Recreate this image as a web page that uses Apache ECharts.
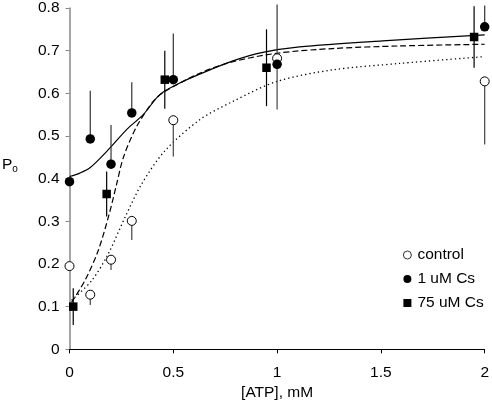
<!DOCTYPE html>
<html>
<head>
<meta charset="utf-8">
<script src="https://cdn.jsdelivr.net/npm/echarts@6/dist/echarts.min.js"></script>
<style>html,body{margin:0;padding:0;background:#fff}#c{width:492px;height:408px}</style>
</head>
<body>
<div id="c"></div>
<script>
// ---- data ----
var xTicks = [0, 0.5, 1, 1.5, 2];
var yTicks = [0, 0.1, 0.2, 0.3, 0.4, 0.5, 0.6, 0.7, 0.8];

var ctrlX = [0, 0.1, 0.2, 0.3, 0.5, 1.0, 2.0];
var ctrlY = [0.195, 0.128, 0.21, 0.301, 0.537, 0.682, 0.628];
var ctrlErr = [0, 0.024, 0.024, 0.045, 0.085, 0.12, 0.148];   // drawn downward

var cs1X = [0, 0.1, 0.2, 0.3, 0.5, 1.0, 2.0];
var cs1Y = [0.393, 0.493, 0.434, 0.554, 0.632, 0.668, 0.756];
var cs1Err = [0, 0.113, 0.092, 0.072, 0.108, 0.14, 0.05];     // drawn upward

var cs75X = [0.018, 0.179, 0.459, 0.949, 1.949];
var cs75Y = [0.1, 0.364, 0.632, 0.66, 0.732];
var cs75Err = [0.043, 0.053, 0.068, 0.09, 0.072];             // drawn both ways

// fitted curves
var fitCs1X = [0, 0.05, 0.1, 0.195, 0.275, 0.355, 0.435, 0.531, 0.627, 0.787, 0.931, 1.108, 1.508, 2.0];
var fitCs1Y = [0.405, 0.413, 0.426, 0.472, 0.515, 0.55, 0.597, 0.624, 0.645, 0.676, 0.696, 0.709, 0.723, 0.737];

var fitCs75X = [0.01, 0.074, 0.138, 0.19, 0.227, 0.259, 0.32, 0.403, 0.459, 0.627, 0.787, 1.0, 1.268, 1.588, 2.0];
var fitCs75Y = [0.11, 0.161, 0.231, 0.315, 0.387, 0.449, 0.519, 0.581, 0.604, 0.647, 0.674, 0.694, 0.705, 0.711, 0.715];

var fitCtrlX = [0.01, 0.107, 0.187, 0.267, 0.347, 0.459, 0.627, 0.787, 1.0, 1.268, 1.588, 2.0];
var fitCtrlY = [0.115, 0.161, 0.224, 0.309, 0.387, 0.465, 0.538, 0.581, 0.628, 0.655, 0.67, 0.686];

function pairs(xs, ys) { return xs.map(function (x, i) { return [x, ys[i]]; }); }
function errData(xs, ys, es, mode) {
  return xs.map(function (x, i) {
    var lo = ys[i], hi = ys[i];
    if (mode === 'down') lo = ys[i] - es[i];
    else if (mode === 'up') hi = ys[i] + es[i];
    else { lo = ys[i] - es[i]; hi = ys[i] + es[i]; }
    return [x, lo, hi];
  });
}
function errSeries(data, color) {
  return {
    type: 'custom', silent: true, clip: false, z: 3,
    data: data,
    encode: { x: 0, y: [1, 2] },
    renderItem: function (params, api) {
      var a = api.coord([api.value(0), api.value(1)]);
      var b = api.coord([api.value(0), api.value(2)]);
      return { type: 'line', shape: { x1: a[0], y1: a[1], x2: b[0], y2: b[1] },
               style: { stroke: color, lineWidth: 1.2 } };
    }
  };
}

var FONT = 'Liberation Sans, Arial, sans-serif';
var chart = echarts.init(document.getElementById('c'), null, { renderer: 'canvas' });
chart.setOption({
  animation: false,
  backgroundColor: '#fff',
  grid: { left: 69.5, right: 6.3, top: 6, bottom: 58.7, containLabel: false },
  xAxis: {
    type: 'value', min: 0, max: 2, interval: 0.5,
    name: '[ATP], mM', nameLocation: 'middle', nameGap: 35,
    nameTextStyle: { fontFamily: FONT, fontSize: 15.5, color: '#000' },
    axisLine: { onZero: false, lineStyle: { color: '#000', width: 1 } },
    axisTick: { show: true, length: 4, lineStyle: { color: '#000' } },
    axisLabel: { margin: 15, fontFamily: FONT, fontSize: 15.5, color: '#000',
      formatter: function (v) { return xTicks.indexOf(v) >= 0 ? String(v) : ''; } },
    splitLine: { show: false }
  },
  yAxis: {
    type: 'value', min: 0, max: 0.8, interval: 0.1,
    axisLine: { show: true, onZero: false, lineStyle: { color: '#888', width: 1.5 } },
    axisTick: { show: true, length: 4, lineStyle: { color: '#888' } },
    axisLabel: { margin: 10, fontFamily: FONT, fontSize: 15.5, color: '#000',
      formatter: function (v) { var r = Math.round(v * 10) / 10; return yTicks.indexOf(r) >= 0 ? String(r) : ''; } },
    splitLine: { show: false }
  },
  graphic: [{
    type: 'text', left: 2, top: 157, silent: true,
    style: {
      text: '{p|P}{s|o}',
      rich: {
        p: { fontFamily: FONT, fontSize: 15.5, fill: '#000' },
        s: { fontFamily: FONT, fontSize: 10, fill: '#000', padding: [8, 0, 0, 0] }
      }
    }
  }],
  legend: {
    orient: 'vertical', left: 398, top: 242, itemGap: 8,
    itemWidth: 8, itemHeight: 8,
    textStyle: { fontFamily: FONT, fontSize: 15.5, color: '#000', padding: [0, 0, 0, 1] },
    data: [
      { name: 'control', icon: 'circle', itemStyle: { borderWidth: 0.8 } },
      { name: '1 uM Cs', icon: 'circle' },
      { name: '75 uM Cs', icon: 'rect' }
    ]
  },
  series: [
    { type: 'line', data: pairs(fitCs1X, fitCs1Y), smooth: 0.3, symbol: 'none', z: 2,
      lineStyle: { color: '#000', width: 1.2 }, silent: true },
    { type: 'line', data: pairs(fitCs75X, fitCs75Y), smooth: 0.3, symbol: 'none', z: 2,
      lineStyle: { color: '#000', width: 1.2, type: [6, 3] }, silent: true },
    { type: 'line', data: pairs(fitCtrlX, fitCtrlY), smooth: 0.3, symbol: 'none', z: 2,
      lineStyle: { color: '#000', width: 1.3, type: [1.3, 3] }, silent: true },
    errSeries(errData(ctrlX, ctrlY, ctrlErr, 'down'), '#444'),
    errSeries(errData(cs1X, cs1Y, cs1Err, 'up'), '#333'),
    errSeries(errData(cs75X, cs75Y, cs75Err, 'both'), '#000'),
    { name: 'control', type: 'scatter', data: pairs(ctrlX, ctrlY), symbol: 'circle', symbolSize: 9, z: 5,
      clip: false, itemStyle: { color: '#fff', borderColor: '#000', borderWidth: 1, opacity: 1 } },
    { name: '1 uM Cs', type: 'scatter', data: pairs(cs1X, cs1Y), symbol: 'circle', symbolSize: 9.5, z: 6,
      clip: false, itemStyle: { color: '#000', opacity: 1 } },
    { name: '75 uM Cs', type: 'scatter', data: pairs(cs75X, cs75Y), symbol: 'rect', symbolSize: 8.5, z: 6,
      clip: false, itemStyle: { color: '#000', opacity: 1 } }
  ]
});
</script>
</body>
</html>
